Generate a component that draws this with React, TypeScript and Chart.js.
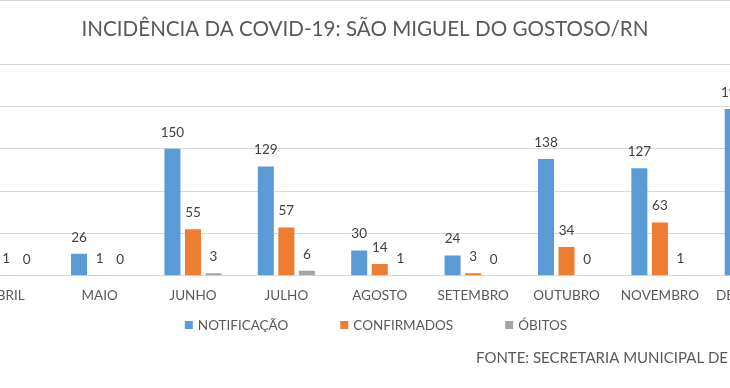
import React, { useEffect, useRef } from "react";
import { Chart, registerables } from "chart.js";

Chart.register(...registerables);

const categories = ["ABRIL", "MAIO", "JUNHO", "JULHO", "AGOSTO", "SETEMBRO", "OUTUBRO", "NOVEMBRO", "DEZEMBRO"];
const notificacao = [8, 26, 150, 129, 30, 24, 138, 127, 197];
const confirmados = [1, 1, 55, 57, 14, 3, 34, 63, 60];
const obitos = [0, 0, 3, 6, 1, 0, 0, 1, 1];
const seriesNames = ["NOTIFICAÇÃO", "CONFIRMADOS", "ÓBITOS"];
const seriesColors = ["#5B9BD5", "#ED7D31", "#A5A5A5"];
const yMin = 0;
const yMax = 250;
const yStep = 50;
const titleText = "INCIDÊNCIA DA COVID-19: SÃO MIGUEL DO GOSTOSO/RN";
const sourceText = "FONTE: SECRETARIA MUNICIPAL DE SAÚDE";

const FONT = "Lato, 'Open Sans', sans-serif";
const SHIFT = 60; // canvas starts 60px left of the visible frame
const CANVAS_W = 880;
const CANVAS_H = 388;

const decorPlugin = {
  id: "decor",
  afterDatasetsDraw(chart: any) {
    const ctx = chart.ctx as CanvasRenderingContext2D;
    ctx.save();
    ctx.font = `13.5px ${FONT}`;
    ctx.fillStyle = "#404040";
    ctx.textAlign = "center";
    ctx.textBaseline = "middle";
    chart.data.datasets.forEach((ds: any, i: number) => {
      const meta = chart.getDatasetMeta(i);
      meta.data.forEach((el: any, j: number) => {
        ctx.fillText(String(ds.data[j]), el.x, el.y - 16.5);
      });
    });
    ctx.restore();
  },
  afterDraw(chart: any) {
    const ctx = chart.ctx as CanvasRenderingContext2D;
    ctx.save();
    // top frame line
    ctx.strokeStyle = "#d9d9d9";
    ctx.lineWidth = 1;
    ctx.beginPath();
    ctx.moveTo(0, 0.5);
    ctx.lineTo(CANVAS_W, 0.5);
    ctx.stroke();

    // title
    ctx.font = `20.6px ${FONT}`;
    ctx.fillStyle = "#595959";
    ctx.textAlign = "center";
    ctx.textBaseline = "middle";
    ctx.fillText(titleText, 365 + SHIFT, 29);

    // legend
    ctx.font = `13.5px ${FONT}`;
    const box = 8;
    const gapText = 5;
    const gapItem = 52;
    const widths = chart.data.datasets.map((ds: any) => ctx.measureText(ds.label).width);
    let total = 0;
    widths.forEach((w: number, i: number) => {
      total += box + gapText + w + (i < widths.length - 1 ? gapItem : 0);
    });
    let x = 376 + SHIFT - total / 2;
    const ly = 325;
    ctx.textAlign = "left";
    chart.data.datasets.forEach((ds: any, i: number) => {
      ctx.fillStyle = ds.backgroundColor;
      ctx.fillRect(x, ly - box / 2, box, box);
      ctx.fillStyle = "#595959";
      ctx.fillText(ds.label, x + box + gapText, ly + 0.5);
      x += box + gapText + widths[i] + gapItem;
    });

    // source
    ctx.font = `15px ${FONT}`;
    ctx.fillStyle = "#595959";
    ctx.textAlign = "left";
    ctx.fillText(sourceText, 476 + SHIFT, 358);
    ctx.restore();
  },
};

export default function App() {
  const canvasRef = useRef<HTMLCanvasElement | null>(null);

  useEffect(() => {
    if (!canvasRef.current) return;
    const chart = new Chart(canvasRef.current, {
      type: "bar",
      data: {
        labels: categories,
        datasets: [
          { label: seriesNames[0], data: notificacao, backgroundColor: seriesColors[0] },
          { label: seriesNames[1], data: confirmados, backgroundColor: seriesColors[1] },
          { label: seriesNames[2], data: obitos, backgroundColor: seriesColors[2] },
        ],
      },
      options: {
        responsive: false,
        animation: false,
        devicePixelRatio: 1,
        layout: { padding: { top: 64, left: 19.5, right: 20, bottom: 72 } },
        datasets: {
          bar: { categoryPercentage: 0.66, barPercentage: 0.78, minBarLength: 0 },
        },
        plugins: {
          legend: { display: false },
          title: { display: false },
          tooltip: { enabled: false },
        },
        scales: {
          x: {
            grid: { display: false, drawTicks: false },
            border: { display: false },
            ticks: {
              color: "#595959",
              font: { family: FONT, size: 13.5 },
              padding: 12,
              maxRotation: 0,
              autoSkip: false,
            },
          },
          y: {
            min: yMin,
            max: yMax,
            grid: { color: "#d9d9d9", lineWidth: 1, drawTicks: false },
            border: { display: false },
            ticks: { display: false, stepSize: yStep },
          },
        },
      },
      plugins: [decorPlugin],
    });
    return () => chart.destroy();
  }, []);

  return (
    <div
      style={{
        position: "fixed",
        left: 0,
        top: 0,
        width: 730,
        height: 388,
        overflow: "hidden",
        background: "#ffffff",
      }}
    >
      <div style={{ position: "absolute", left: -SHIFT, top: 0, width: CANVAS_W, height: CANVAS_H }}>
        <canvas ref={canvasRef} width={CANVAS_W} height={CANVAS_H} />
      </div>
    </div>
  );
}
